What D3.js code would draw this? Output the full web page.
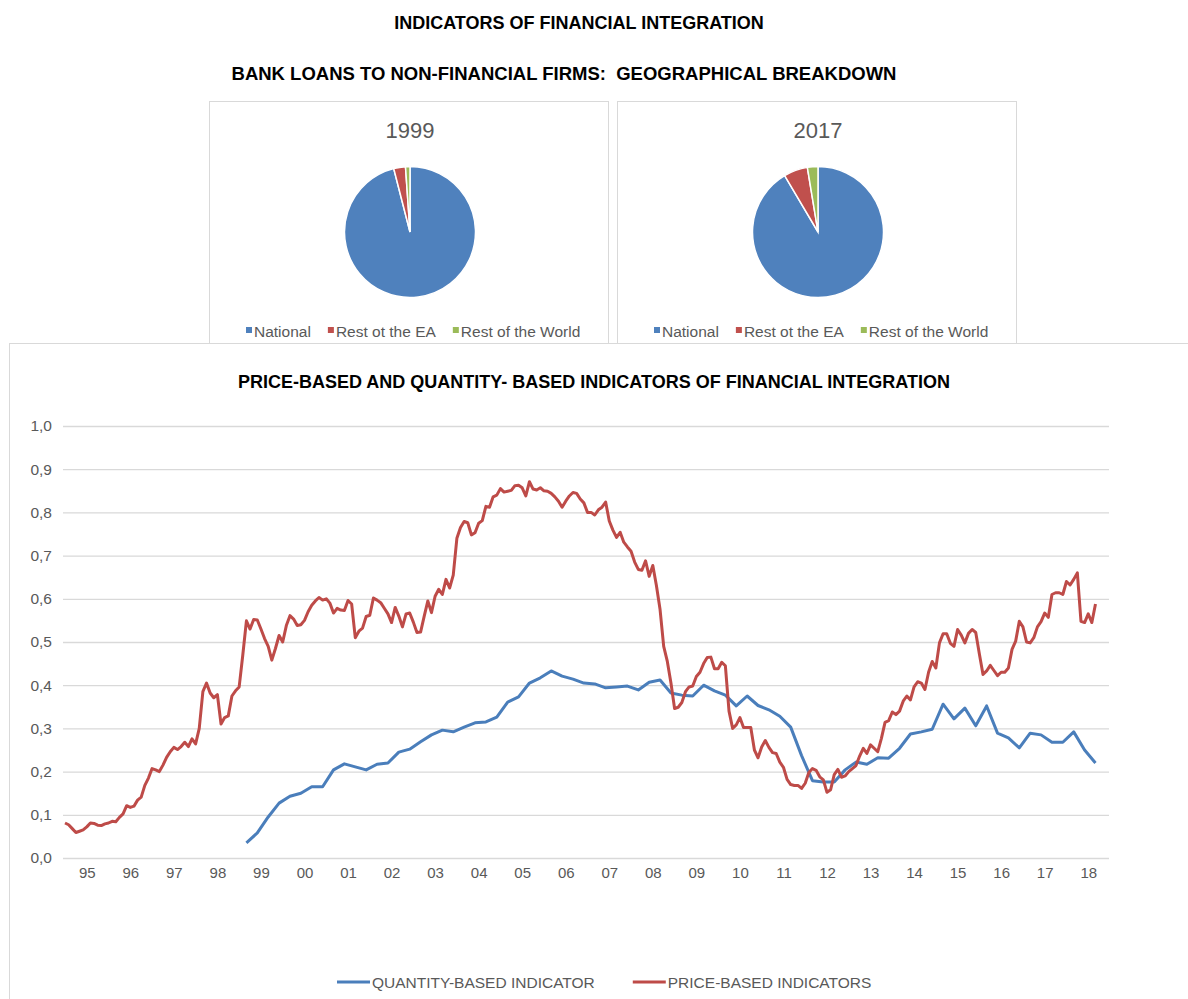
<!DOCTYPE html>
<html>
<head>
<meta charset="utf-8">
<script src="https://cdn.jsdelivr.net/npm/d3@7"></script>
<style>
  body { margin: 0; background: #fff; }
  svg { display: block; font-family: "Liberation Sans", Arial, sans-serif; }
</style>
</head>
<body>
<div id="chart"></div>
<script>
// ---- data ----
const sliceLabels = ["National", "Rest ot the EA", "Rest of the World"];
const sliceColors = ["#4f81bd", "#c0504d", "#9bbb59"];
const share1999 = [96.0, 2.9, 1.1];
const share2017 = [91.5, 5.9, 2.6];

const yearLabels = ["95","96","97","98","99","00","01","02","03","04","05","06",
                    "07","08","09","10","11","12","13","14","15","16","17","18"];
const yTicks = [0, 0.1, 0.2, 0.3, 0.4, 0.5, 0.6, 0.7, 0.8, 0.9, 1.0];

// price-based indicator, monthly from Jan 1995
const priceStart = 1995;
const priceBased = [
  0.081,0.077,0.068,0.059,0.062,0.065,0.072,0.081,0.080,0.076,
  0.075,0.079,0.081,0.085,0.084,0.094,0.102,0.121,0.117,0.120,
  0.134,0.141,0.168,0.185,0.207,0.204,0.200,0.215,0.233,0.246,
  0.256,0.251,0.258,0.268,0.258,0.276,0.264,0.300,0.385,0.405,
  0.382,0.371,0.378,0.310,0.325,0.329,0.375,0.387,0.396,0.470,
  0.549,0.530,0.552,0.551,0.530,0.508,0.490,0.458,0.485,0.515,
  0.500,0.538,0.561,0.553,0.538,0.540,0.550,0.570,0.585,0.595,
  0.603,0.597,0.600,0.590,0.567,0.578,0.574,0.573,0.596,0.588,
  0.510,0.525,0.532,0.559,0.562,0.602,0.597,0.591,0.578,0.565,
  0.545,0.580,0.560,0.535,0.565,0.567,0.546,0.522,0.523,0.560,
  0.595,0.568,0.606,0.622,0.610,0.645,0.625,0.655,0.740,0.765,
  0.779,0.776,0.748,0.753,0.775,0.781,0.814,0.812,0.836,0.840,
  0.855,0.847,0.849,0.851,0.862,0.863,0.857,0.838,0.871,0.854,
  0.852,0.857,0.850,0.849,0.844,0.836,0.826,0.812,0.826,0.838,
  0.846,0.844,0.831,0.822,0.800,0.800,0.794,0.806,0.812,0.824,
  0.780,0.759,0.742,0.754,0.731,0.720,0.710,0.685,0.668,0.666,
  0.688,0.652,0.677,0.630,0.575,0.490,0.455,0.405,0.346,0.349,
  0.360,0.385,0.396,0.398,0.420,0.430,0.450,0.464,0.465,0.438,
  0.438,0.453,0.445,0.340,0.300,0.308,0.325,0.302,0.302,0.302,
  0.250,0.232,0.257,0.272,0.256,0.244,0.242,0.222,0.210,0.182,
  0.170,0.168,0.168,0.161,0.173,0.198,0.207,0.203,0.188,0.181,
  0.152,0.158,0.193,0.205,0.187,0.190,0.200,0.207,0.214,0.236,
  0.254,0.242,0.262,0.254,0.246,0.277,0.314,0.318,0.338,0.332,
  0.340,0.363,0.375,0.366,0.396,0.408,0.405,0.390,0.430,0.455,
  0.440,0.498,0.519,0.519,0.497,0.490,0.529,0.516,0.498,0.520,
  0.529,0.522,0.472,0.425,0.433,0.446,0.434,0.422,0.430,0.430,
  0.440,0.483,0.502,0.548,0.535,0.500,0.498,0.510,0.535,0.547,
  0.567,0.557,0.610,0.614,0.614,0.610,0.640,0.632,0.645,0.660,
  0.548,0.545,0.565,0.545,0.588
];

// quantity-based indicator, quarterly from Q1 1999 (end of quarter)
const quantityStart = 1999 + 2 / 12;
const quantityBased = [
  0.035,0.058,0.095,0.127,0.143,0.150,0.165,0.165,0.204,0.218,
  0.211,0.204,0.217,0.220,0.245,0.252,0.269,0.285,0.296,0.292,
  0.303,0.313,0.315,0.326,0.361,0.373,0.405,0.417,0.433,0.421,
  0.414,0.405,0.403,0.394,0.396,0.398,0.389,0.407,0.412,0.382,
  0.377,0.375,0.400,0.387,0.377,0.352,0.375,0.353,0.343,0.328,
  0.303,0.237,0.179,0.176,0.176,0.204,0.222,0.217,0.232,0.231,
  0.254,0.287,0.292,0.298,0.356,0.322,0.347,0.306,0.352,0.289,
  0.278,0.255,0.289,0.285,0.268,0.268,0.292,0.250,0.220
];

const seriesNames = ["QUANTITY-BASED INDICATOR", "PRICE-BASED INDICATORS"];

// ---- layout ----
const W = 1188, H = 999;
const svg = d3.select("#chart").append("svg")
    .attr("width", W).attr("height", H);

const grey = "#595959";
const border = "#d9d9d9";

// headings
svg.append("text")
    .attr("x", 579).attr("y", 29)
    .attr("text-anchor", "middle")
    .attr("font-weight", "bold").attr("font-size", 18)
    .text("INDICATORS OF FINANCIAL INTEGRATION");

svg.append("text")
    .attr("x", 564).attr("y", 80)
    .attr("text-anchor", "middle")
    .attr("font-weight", "bold").attr("font-size", 18.5)
    .attr("xml:space", "preserve")
    .text("BANK LOANS TO NON-FINANCIAL FIRMS:  GEOGRAPHICAL BREAKDOWN");

// ---- pies ----
function drawPie(left, title, values) {
    const g = svg.append("g").attr("transform", `translate(${left},101)`);
    g.append("rect")
        .attr("x", 0.5).attr("y", 0.5)
        .attr("width", 399).attr("height", 250)
        .attr("fill", "#fff").attr("stroke", border);

    g.append("text")
        .attr("x", 201).attr("y", 37)
        .attr("text-anchor", "middle")
        .attr("font-size", 22).attr("fill", grey)
        .text(title);

    const arcs = d3.pie().sort(null)(values);
    const arc = d3.arc().innerRadius(0).outerRadius(65.5);
    g.append("g")
        .attr("transform", "translate(201,131)")
        .selectAll("path")
        .data(arcs).enter().append("path")
        .attr("d", arc)
        .attr("fill", (d, i) => sliceColors[i])
        .attr("stroke", "#fff").attr("stroke-width", 1.5);

    // legend
    const leg = g.append("g").attr("transform", "translate(37,230)");
    let x = 0;
    sliceLabels.forEach((lab, i) => {
        leg.append("rect")
            .attr("x", x).attr("y", -4)
            .attr("width", 6).attr("height", 6)
            .attr("fill", sliceColors[i]);
        const t = leg.append("text")
            .attr("x", x + 8).attr("y", 5.5)
            .attr("font-size", 15.5).attr("fill", grey)
            .text(lab);
        x += 8 + t.node().getComputedTextLength() + 17;
    });
}

drawPie(209, "1999", share1999);
drawPie(617, "2017", share2017);

// ---- line chart ----
const box = svg.append("g");
box.append("rect")
    .attr("x", 9.5).attr("y", 343.5)
    .attr("width", 1200).attr("height", 700)
    .attr("fill", "#fff").attr("stroke", border);

svg.append("text")
    .attr("x", 594).attr("y", 388)
    .attr("text-anchor", "middle")
    .attr("font-weight", "bold").attr("font-size", 18)
    .text("PRICE-BASED AND QUANTITY- BASED INDICATORS OF FINANCIAL INTEGRATION");

const x = d3.scaleLinear().domain([1995, 2019]).range([65, 1110]);
const y = d3.scaleLinear().domain([0, 1]).range([858, 426]);
const comma = d3.formatLocale({decimal: ",", thousands: ".", grouping: [3], currency: ["", "€"]}).format(".1f");

const yAxis = svg.append("g")
    .attr("transform", "translate(63,0)")
    .call(d3.axisLeft(y).tickValues(yTicks).tickFormat(comma).tickSize(-1046).tickPadding(11));
yAxis.select(".domain").remove();
yAxis.selectAll("line").attr("stroke", border).attr("stroke-width", 1.3);
yAxis.selectAll("text").attr("font-size", 15.5).attr("fill", grey)
    .attr("font-family", "Liberation Sans, Arial, sans-serif");

const xAxis = svg.append("g")
    .attr("transform", "translate(0,858)")
    .call(d3.axisBottom(x)
        .tickValues(yearLabels.map((d, i) => 1995 + i + 0.5))
        .tickFormat((d, i) => yearLabels[i])
        .tickSize(0).tickPadding(9));
xAxis.select(".domain").remove();
xAxis.selectAll("text").attr("font-size", 15).attr("fill", grey)
    .attr("font-family", "Liberation Sans, Arial, sans-serif");

const line = d3.line().x(d => x(d[0])).y(d => y(d[1]));

const priceData = priceBased.map((v, i) => [priceStart + i / 12, v]);
const quantityData = quantityBased.map((v, i) => [quantityStart + i / 4, v]);

svg.append("path")
    .datum(quantityData)
    .attr("fill", "none").attr("stroke", "#4a7ebb")
    .attr("stroke-width", 3).attr("stroke-linejoin", "round")
    .attr("d", line);

svg.append("path")
    .datum(priceData)
    .attr("fill", "none").attr("stroke", "#be4b48")
    .attr("stroke-width", 3).attr("stroke-linejoin", "round")
    .attr("d", line);

// legend
const lineColors = ["#4a7ebb", "#be4b48"];
const lg = svg.append("g").attr("transform", "translate(337,982)");
let lx = 0;
seriesNames.forEach((name, i) => {
    lg.append("line")
        .attr("x1", lx).attr("x2", lx + 33)
        .attr("y1", 0).attr("y2", 0)
        .attr("stroke", lineColors[i]).attr("stroke-width", 3);
    const t = lg.append("text")
        .attr("x", lx + 35).attr("y", 5.5)
        .attr("font-size", 15.5).attr("fill", grey)
        .text(name);
    lx += 35 + t.node().getComputedTextLength() + 38;
});
</script>
</body>
</html>
